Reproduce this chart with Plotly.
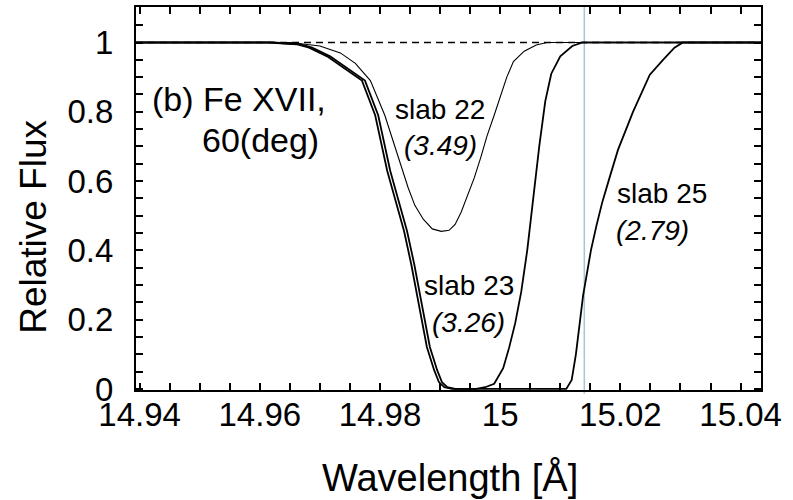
import plotly.graph_objects as go

# Fe XVII 15.014 A line: relative flux through three slabs, viewed at 60 deg
line_center = 15.014

wave_range = [14.9394, 15.0434]
flux_range = [-0.003, 1.1025]

x_tick_vals = [14.94, 14.96, 14.98, 15.00, 15.02, 15.04]
x_tick_text = ["14.94", "14.96", "14.98", "15", "15.02", "15.04"]
y_tick_vals = [0, 0.2, 0.4, 0.6, 0.8, 1.0]
y_tick_text = ["0", "0.2", "0.4", "0.6", "0.8", "1"]

continuum_x = [14.9394, 15.0434]
continuum_y = [1.0, 1.0]

slab22_wave = [14.9394, 14.9651, 14.9700, 14.9734, 14.9759, 14.9784, 14.9808,
               14.9825, 14.9838, 14.9847, 14.9858, 14.9872, 14.9887, 14.9902,
               14.9915, 14.9925, 14.9935, 14.9945, 14.9957, 14.9968, 14.9978,
               14.9990, 15.0001, 15.0011, 15.0022, 15.0040, 15.0060, 15.0078,
               15.0434]
slab22_flux = [1.0, 1.0, 0.99, 0.97, 0.94, 0.89, 0.79,
               0.70, 0.63, 0.58, 0.53, 0.49, 0.462, 0.455,
               0.458, 0.475, 0.51, 0.555, 0.61, 0.67, 0.73,
               0.79, 0.85, 0.90, 0.945, 0.975, 0.993, 1.0,
               1.0]

slab23_wave = [14.9394, 14.9621, 14.9667, 14.9687, 14.9717, 14.9742, 14.9775,
               14.9797, 14.9817, 14.9825, 14.9845, 14.9857, 14.9867, 14.9875,
               14.9883, 14.9895, 14.9903, 14.9912, 14.9925, 14.9960, 14.9975,
               14.9990, 15.0005, 15.0015, 15.0025, 15.0035, 15.0045, 15.0055,
               15.0065, 15.0075, 15.0085, 15.0100, 15.0120, 15.0137, 15.0434]
slab23_flux = [1.0, 1.0, 0.995, 0.985, 0.96, 0.93, 0.89,
               0.79, 0.63, 0.58, 0.456, 0.36, 0.265, 0.198,
               0.121, 0.055, 0.02, 0.005, 0.0, 0.0, 0.005,
               0.015, 0.06, 0.12, 0.19, 0.28, 0.40, 0.55,
               0.70, 0.83, 0.91, 0.96, 0.99, 1.0, 1.0]

slab25_wave = [14.9394, 14.9615, 14.9661, 14.9682, 14.9712, 14.9737, 14.9770,
               14.9792, 14.9812, 14.9820, 14.9840, 14.9852, 14.9862, 14.9870,
               14.9878, 14.9890, 14.9898, 14.9907, 14.9920, 15.0110, 15.0119,
               15.0126, 15.0133, 15.0138, 15.0144, 15.0151, 15.0160, 15.0170,
               15.0182, 15.0196, 15.0221, 15.0249, 15.0271, 15.0290, 15.0304,
               15.0434]
slab25_flux = [1.0, 1.0, 0.995, 0.985, 0.96, 0.93, 0.89,
               0.79, 0.63, 0.58, 0.456, 0.36, 0.265, 0.198,
               0.121, 0.055, 0.02, 0.005, 0.0, 0.0, 0.026,
               0.10, 0.19, 0.27, 0.33, 0.40, 0.47, 0.54,
               0.61, 0.69, 0.80, 0.907, 0.95, 0.985, 1.0,
               1.0]

slab_labels = ["slab 22", "slab 23", "slab 25"]
slab_values = ["(3.49)", "(3.26)", "(2.79)"]

FONT = "Liberation Sans, Arial, sans-serif"

fig = go.Figure()

fig.add_trace(go.Scatter(x=continuum_x, y=continuum_y, mode="lines",
                         line=dict(color="black", width=1.5, dash="7px,5px"),
                         hoverinfo="skip"))
fig.add_trace(go.Scatter(x=slab22_wave, y=slab22_flux, mode="lines",
                         line=dict(color="black", width=1.1), name=slab_labels[0]))
fig.add_trace(go.Scatter(x=slab23_wave, y=slab23_flux, mode="lines",
                         line=dict(color="black", width=1.8), name=slab_labels[1]))
fig.add_trace(go.Scatter(x=slab25_wave, y=slab25_flux, mode="lines",
                         line=dict(color="black", width=1.8), name=slab_labels[2]))

# rest wavelength marker
fig.add_shape(type="line", xref="x", yref="paper", x0=line_center, x1=line_center,
              y0=-0.01, y1=1, line=dict(color="rgb(165,198,212)", width=1.5),
              layer="below")

axis_common = dict(
    showline=True, linecolor="black", linewidth=2, mirror="allticks",
    ticks="inside", ticklen=7, tickwidth=2, tickcolor="black",
    showgrid=False, zeroline=False,
    tickfont=dict(family=FONT, size=33, color="black"),
)

fig.update_xaxes(range=wave_range, tickvals=x_tick_vals, ticktext=x_tick_text,
                 minor=dict(dtick=0.005, tick0=14.94, ticks="inside", ticklen=7,
                            tickwidth=2, tickcolor="black"),
                 ticklabelstandoff=-6, **axis_common)
fig.update_yaxes(range=flux_range, tickvals=y_tick_vals, ticktext=y_tick_text,
                 minor=dict(dtick=0.05, tick0=0, ticks="inside", ticklen=7,
                            tickwidth=2, tickcolor="black"),
                 ticklabelstandoff=14, **axis_common)

def ann(text, x, y, size, angle=0):
    fig.add_annotation(text=text, x=x, y=y, xref="paper", yref="paper",
                       showarrow=False, xanchor="center", yanchor="middle",
                       textangle=angle,
                       font=dict(family=FONT, size=size, color="black"))

ann("(b) Fe XVII,", 0.1648, 0.761, 34)
ann("60(deg)", 0.1984, 0.652, 34)
ann(slab_labels[0], 0.4864, 0.7325, 28)
ann("<i>" + slab_values[0] + "</i>", 0.4872, 0.639, 28)
ann(slab_labels[1], 0.5328, 0.2727, 28)
ann("<i>" + slab_values[1] + "</i>", 0.5312, 0.1766, 28)
ann(slab_labels[2], 0.8416, 0.5143, 28)
ann("<i>" + slab_values[2] + "</i>", 0.8256, 0.4156, 28)

ann("Wavelength [Å]", 0.5024, -0.228, 38)
ann("Relative Flux", -0.1632, 0.426, 37, angle=-90)

fig.update_layout(
    width=793, height=500,
    margin=dict(l=136, r=32, t=5, b=110),
    paper_bgcolor="white", plot_bgcolor="white",
    showlegend=False,
    font=dict(family=FONT, color="black"),
)

fig.write_html("out.html")
